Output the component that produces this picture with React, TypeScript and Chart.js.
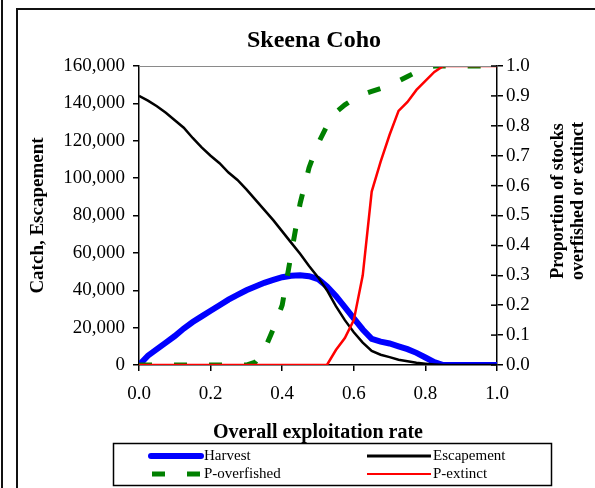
import React, { useEffect, useRef } from "react";
import { Chart, registerables } from "chart.js";

Chart.register(...registerables);

const exploitationRates = [
  0, 0.025, 0.05, 0.075, 0.1, 0.125, 0.15, 0.175, 0.2, 0.225, 0.25, 0.275, 0.3, 0.325, 0.35, 0.375, 0.4,
  0.425, 0.45, 0.475, 0.5, 0.525, 0.55, 0.575, 0.6, 0.625, 0.65, 0.675, 0.7, 0.725, 0.75, 0.775, 0.8,
  0.825, 0.85, 0.875, 0.9, 0.925, 0.95, 0.975, 1.0,
];

const harvest = [
  0, 5000, 8500, 12000, 15500, 19500, 23000, 26000, 29000, 32000, 35000, 37500, 40000, 42000, 44000,
  45500, 47000, 47800, 48000, 47500, 46000, 42000, 37000, 31000, 25000, 19000, 14000, 12500, 11500,
  10000, 8500, 6500, 4000, 1500, 0, 0, 0, 0, 0, 0, 0,
];

const escapement = [
  144000, 141500, 138500, 135000, 131000, 127000, 121500, 116500, 112000, 108000, 103000, 99000, 94000,
  88500, 83000, 77500, 71500, 65500, 59500, 53000, 47000, 40000, 31500, 24000, 17500, 12000, 7500, 5500,
  4200, 2800, 2000, 1200, 700, 300, 0, 0, 0, 0, 0, 0, 0,
];

const pOverfished = [
  0, 0, 0, 0, 0, 0, 0, 0, 0, 0, 0, 0, 0, 0.01, 0.05, 0.12, 0.2, 0.37, 0.54, 0.66, 0.74, 0.8, 0.845,
  0.87, 0.89, 0.905, 0.915, 0.925, 0.935, 0.95, 0.965, 0.98, 0.99, 1, 1, 1, 1, 1, 1, 1, 1,
];

const pExtinct = [
  0, 0, 0, 0, 0, 0, 0, 0, 0, 0, 0, 0, 0, 0, 0, 0, 0, 0, 0, 0, 0, 0, 0.05, 0.09, 0.15, 0.3, 0.58, 0.68,
  0.77, 0.85, 0.88, 0.92, 0.95, 0.98, 1, 1, 1, 1, 1, 1, 1,
];

const chartTitle = "Skeena Coho";
const xAxisTitle = "Overall exploitation rate";
const leftAxisTitle = "Catch, Escapement";
const rightAxisTitle = ["Proportion of stocks", "overfished or extinct"];
const seriesNames = ["Harvest", "Escapement", "P-overfished", "P-extinct"];

const SERIF = "'Liberation Serif', 'Times New Roman', serif";

export default function App() {
  const ref = useRef<HTMLCanvasElement>(null);

  useEffect(() => {
    const canvas = ref.current;
    if (!canvas) return;
    const pts = (arr: number[]) => exploitationRates.map((x, i) => ({ x, y: arr[i] }));

    const extras = {
      id: "extras",
      afterDraw(chart: any) {
        const ctx = chart.ctx as CanvasRenderingContext2D;
        const ca = chart.chartArea;
        ctx.save();
        // chart title, centred over plot area
        ctx.fillStyle = "#000";
        ctx.font = `bold 24px ${SERIF}`;
        ctx.textAlign = "center";
        ctx.textBaseline = "alphabetic";
        ctx.fillText(chartTitle, (ca.left + ca.right) / 2 - 4, 47);

        // top border of plot area
        ctx.strokeStyle = "#8a8a8a";
        ctx.lineWidth = 1;
        ctx.beginPath();
        ctx.moveTo(ca.left, Math.round(ca.top) + 0.5);
        ctx.lineTo(ca.right, Math.round(ca.top) + 0.5);
        ctx.stroke();

        // inner tick marks on right axis
        const y1 = chart.scales.y1;
        ctx.strokeStyle = "#000";
        ctx.lineWidth = 1.5;
        y1.ticks.forEach((t: any) => {
          const py = y1.getPixelForValue(t.value);
          ctx.beginPath();
          ctx.moveTo(ca.right - 6, py);
          ctx.lineTo(ca.right, py);
          ctx.stroke();
        });

        // right axis title (reads bottom to top)
        ctx.fillStyle = "#000";
        ctx.font = `bold 18px ${SERIF}`;
        ctx.textAlign = "center";
        ctx.textBaseline = "middle";
        const cy = 201;
        [558, 578].forEach((cx, i) => {
          ctx.save();
          ctx.translate(cx, cy);
          ctx.rotate(-Math.PI / 2);
          ctx.fillText(rightAxisTitle[i], 0, 0);
          ctx.restore();
        });

        // legend
        const bx = 113.5, by = 443.5, bw = 438, bh = 42;
        ctx.lineWidth = 1.5;
        ctx.strokeStyle = "#000";
        ctx.strokeRect(bx, by, bw, bh);
        const r1 = 456, r2 = 474;
        ctx.lineCap = "round";
        ctx.strokeStyle = "#0000ff";
        ctx.lineWidth = 6;
        ctx.beginPath();
        ctx.moveTo(151, r1);
        ctx.lineTo(201, r1);
        ctx.stroke();
        ctx.lineCap = "butt";
        ctx.strokeStyle = "#000";
        ctx.lineWidth = 3;
        ctx.beginPath();
        ctx.moveTo(367, r1);
        ctx.lineTo(431, r1);
        ctx.stroke();
        ctx.strokeStyle = "#008000";
        ctx.lineWidth = 5;
        ctx.beginPath();
        ctx.moveTo(152, r2);
        ctx.lineTo(165, r2);
        ctx.moveTo(187, r2);
        ctx.lineTo(200, r2);
        ctx.stroke();
        ctx.strokeStyle = "#ff0000";
        ctx.lineWidth = 2;
        ctx.beginPath();
        ctx.moveTo(367, r2);
        ctx.lineTo(431, r2);
        ctx.stroke();

        ctx.fillStyle = "#000";
        ctx.font = `15px ${SERIF}`;
        ctx.textAlign = "left";
        ctx.textBaseline = "middle";
        ctx.fillText(seriesNames[0], 204, r1);
        ctx.fillText(seriesNames[1], 433, r1);
        ctx.fillText(seriesNames[2], 204, r2);
        ctx.fillText(seriesNames[3], 433, r2);
        ctx.restore();
      },
    };

    const tickFont = { family: SERIF, size: 19 };
    const gridOpts = {
      drawOnChartArea: false,
      drawTicks: true,
      tickLength: 6,
      color: "#000",
      lineWidth: 1.5,
    };

    const chart = new Chart(canvas, {
      type: "line",
      data: {
        datasets: [
          {
            label: seriesNames[3],
            data: pts(pExtinct),
            yAxisID: "y1",
            borderColor: "#ff0000",
            backgroundColor: "#ff0000",
            borderWidth: 2.5,
            order: 0,
          },
          {
            label: seriesNames[2],
            data: pts(pOverfished),
            yAxisID: "y1",
            borderColor: "#008000",
            backgroundColor: "#008000",
            borderWidth: 5,
            borderDash: [13, 22],
            order: 1,
          },
          {
            label: seriesNames[1],
            data: pts(escapement),
            yAxisID: "y",
            borderColor: "#000000",
            backgroundColor: "#000000",
            borderWidth: 2.5,
            order: 2,
          },
          {
            label: seriesNames[0],
            data: pts(harvest),
            yAxisID: "y",
            borderColor: "#0000ff",
            backgroundColor: "#0000ff",
            borderWidth: 6,
            order: 3,
          },
        ],
      } as any,
      options: {
        responsive: false,
        animation: false,
        elements: {
          point: { radius: 0 },
          line: { tension: 0, fill: false },
        },
        layout: { padding: { left: 0, right: 0, top: 66, bottom: 44 } },
        plugins: {
          legend: { display: false },
          tooltip: { enabled: false },
          title: { display: false },
        },
        scales: {
          x: {
            type: "linear",
            min: 0,
            max: 1,
            afterFit: (s: any) => {
              s.height = 79;
            },
            ticks: {
              stepSize: 0.2,
              callback: (v: any) => Number(v).toFixed(1),
              font: tickFont,
              color: "#000",
              padding: 12,
              maxRotation: 0,
            },
            grid: gridOpts,
            border: { color: "#000", width: 1.5 },
            title: {
              display: true,
              text: xAxisTitle,
              color: "#000",
              font: { family: SERIF, size: 20, weight: "bold" },
              padding: { top: 0, bottom: -1 },
            },
          },
          y: {
            position: "left",
            min: 0,
            max: 160000,
            afterFit: (s: any) => {
              s.width = 139;
            },
            ticks: {
              stepSize: 20000,
              callback: (v: any) => Number(v).toLocaleString("en-US"),
              font: tickFont,
              color: "#000",
              padding: 8,
            },
            grid: gridOpts,
            border: { color: "#000", width: 1.5 },
            title: {
              display: true,
              text: leftAxisTitle,
              color: "#000",
              font: { family: SERIF, size: 19, weight: "bold" },
              padding: { top: 27, bottom: 0 },
            },
          },
          y1: {
            position: "right",
            min: 0,
            max: 1,
            afterFit: (s: any) => {
              s.width = 98;
            },
            ticks: {
              stepSize: 0.1,
              callback: (v: any) => Number(v).toFixed(1),
              font: tickFont,
              color: "#000",
              padding: 3,
            },
            grid: gridOpts,
            border: { color: "#000", width: 1.5 },
          },
        },
      } as any,
      plugins: [extras],
    });

    return () => chart.destroy();
  }, []);

  return (
    <div
      style={{
        position: "absolute",
        left: 0,
        top: 0,
        width: 595,
        height: 488,
        overflow: "hidden",
        background: "#fff",
      }}
    >
      <canvas
        ref={ref}
        width={595}
        height={488}
        style={{ position: "absolute", left: 0, top: 0, width: 595, height: 488 }}
      />
      <div
        style={{
          position: "absolute",
          left: 1,
          top: 0,
          width: 2,
          height: 488,
          background: "#111",
          pointerEvents: "none",
        }}
      />
      <div
        style={{
          position: "absolute",
          left: 16,
          top: 8,
          width: 620,
          height: 520,
          borderLeft: "2px solid #111",
          borderTop: "2px solid #111",
          pointerEvents: "none",
        }}
      />
    </div>
  );
}
